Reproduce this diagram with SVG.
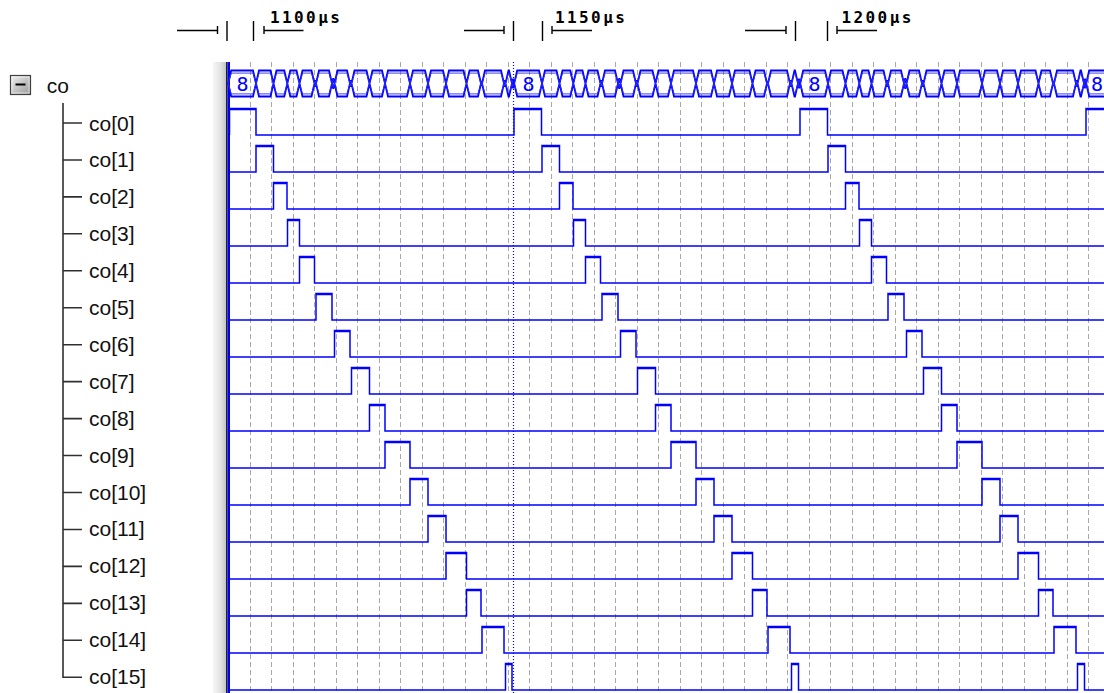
<svg xmlns="http://www.w3.org/2000/svg" xmlns:xlink="http://www.w3.org/1999/xlink" width="1104" height="693" viewBox="0 0 1104 693">
<style>
.lbl{font-family:"Liberation Sans",Arial,sans-serif;font-size:21px;fill:#111}
.rt{font-family:"DejaVu Sans Mono","Liberation Mono",monospace;font-size:16px;font-weight:bold;letter-spacing:2.4px;fill:#000}
.bt{font-family:"DejaVu Sans Mono","Liberation Mono",monospace;font-size:20px;fill:#0000ff;text-anchor:middle}
.rl{stroke:#000;stroke-width:1.4;fill:none}
.grid{stroke:#a8a8a8;stroke-width:1;stroke-dasharray:5 3;fill:none}
.wave{stroke:#0000ff;stroke-width:1.5;fill:none}
.hi{stroke:#0000ff;stroke-width:2.2;fill:none}
.bus{stroke:#0000ff;stroke-width:1.8;fill:none;stroke-linejoin:miter}
.busin{stroke:#2a2aff;stroke-width:1;fill:none}
.tree{stroke:#303030;stroke-width:1.6;fill:none}
</style>
<defs>
<linearGradient id="sep" x1="0" y1="0" x2="1" y2="0">
<stop offset="0" stop-color="#f6f6f6"/><stop offset="0.6" stop-color="#e2e2e2"/><stop offset="1" stop-color="#c4c4c4"/>
</linearGradient>
<linearGradient id="box" x1="0" y1="0" x2="1" y2="1">
<stop offset="0" stop-color="#f0f0f0"/><stop offset="1" stop-color="#9a9a9a"/>
</linearGradient>
<path id="busP" d="M228.2,83.5 L231.2,70.5 H253 L256,83.5 L253,96.5 H231.2 Z M256,83.5 L259,70.5 H270.5 L273.5,83.5 L270.5,96.5 H259 Z M273.5,83.5 L276.5,70.5 H284.3 L287.3,83.5 L284.3,96.5 H276.5 Z M287.3,83.5 L290.3,70.5 H296.5 L299.5,83.5 L296.5,96.5 H290.3 Z M299.5,83.5 L302.5,70.5 H311.5 L314.5,83.5 L311.5,96.5 H302.5 Z M314.5,83.5 L315.25,80.25 L316,83.5 L315.25,86.75 Z M316,83.5 L319,70.5 H329 L332,83.5 L329,96.5 H319 Z M332,83.5 L333.25,78.1 L334.5,83.5 L333.25,88.9 Z M334.5,83.5 L337.5,70.5 H347 L350,83.5 L347,96.5 H337.5 Z M350,83.5 L350.75,80.25 L351.5,83.5 L350.75,86.75 Z M351.5,83.5 L354.5,70.5 H366.5 L369.5,83.5 L366.5,96.5 H354.5 Z M369.5,83.5 L372.5,70.5 H382 L385,83.5 L382,96.5 H372.5 Z M385,83.5 L388,70.5 H407 L410,83.5 L407,96.5 H388 Z M410,83.5 L413,70.5 H425 L428,83.5 L425,96.5 H413 Z M428,83.5 L431,70.5 H443 L446,83.5 L443,96.5 H431 Z M446,83.5 L449,70.5 H463.5 L466.5,83.5 L463.5,96.5 H449 Z M466.5,83.5 L469.5,70.5 H478 L481,83.5 L478,96.5 H469.5 Z M481,83.5 L481.5,81.3 L482,83.5 L481.5,85.7 Z M482,83.5 L485,70.5 H501 L504,83.5 L501,96.5 H485 Z M504,83.5 L504.75,80.25 L505.5,83.5 L504.75,86.75 Z M505.5,83.5 L508.5,70.5 H509 L512,83.5 L509,96.5 H508.5 Z M512,83.5 L513.1,78.7 L514.2,83.5 L513.1,88.3 Z"/>
<g id="busPer">
<use xlink:href="#busP" class="bus"/>
<use xlink:href="#busP" class="busin" transform="translate(0,83.5) scale(1,0.8) translate(0,-83.5)"/>
</g>
</defs>
<rect x="0" y="0" width="1104" height="693" fill="#ffffff"/>

<g id="ruler">
<path class="rl" d="M177,30.5H217.5 M217.5,26V34 M227,21V41 M253.5,21V41 M264,26V34 M264,30.5H303.5 M464,30.5H504 M504,26V34 M513.5,21V41 M542.5,21V41 M552,26V34 M552,30.5H592 M745,30.5H786 M786,26V34 M795.5,21V41 M827.5,21V41 M837,26V34 M837,30.5H877"/>
<text class="rt" x="270" y="23.3">1100µs</text>
<text class="rt" x="555" y="23.3">1150µs</text>
<text class="rt" x="841.5" y="23.3">1200µs</text>
</g>

<g id="grid">
<path class="grid" d="M250.5,62V693 M271.5,62V693 M293.5,62V693 M314.5,62V693 M336.5,62V693 M357.5,62V693 M379.5,62V693 M400.5,62V693 M422.5,62V693 M443.5,62V693 M465.5,62V693 M486.5,62V693 M508.5,62V693 M529.5,62V693 M551.5,62V693 M572.5,62V693 M594.5,62V693 M615.5,62V693 M637.5,62V693 M658.5,62V693 M680.5,62V693 M701.5,62V693 M723.5,62V693 M744.5,62V693 M766.5,62V693 M787.5,62V693 M809.5,62V693 M830.5,62V693 M852.5,62V693 M873.5,62V693 M895.5,62V693 M916.5,62V693 M938.5,62V693 M959.5,62V693 M981.5,62V693 M1002.5,62V693 M1024.5,62V693 M1045.5,62V693 M1067.5,62V693 M1088.5,62V693"/>
</g>

<g id="separator">
<rect x="213" y="62" width="13" height="631" fill="url(#sep)"/>
<rect x="226" y="62" width="1.6" height="631" fill="#202030"/>
<rect x="227.6" y="62" width="2.4" height="631" fill="#0000ff"/>
</g>

<g id="co">
<rect x="10.5" y="75.5" width="20" height="19" fill="url(#box)" stroke="#404040" stroke-width="1.2"/>
<rect x="12" y="77" width="17" height="16" fill="none" stroke="#ffffff" stroke-opacity="0.6" stroke-width="1"/>
<path d="M15.5,84.5H25.5" stroke="#000" stroke-width="2"/>
<text class="lbl" x="46.7" y="93.3">co</text>
<use xlink:href="#busPer"/>
<use xlink:href="#busPer" x="286"/>
<use xlink:href="#busPer" x="572"/>
<use xlink:href="#busPer" x="858"/>
<text class="bt" x="242.5" y="90.5">8</text>
<text class="bt" x="528.5" y="90.5">8</text>
<text class="bt" x="814.5" y="90.5">8</text>
<text class="bt" x="1097" y="90.5">8</text>
</g>

<g id="connectors">
<path class="tree" d="M63,103V677.3H82 M63,123H82 M63,160H82 M63,196.9H82 M63,233.8H82 M63,270.8H82 M63,307.8H82 M63,344.7H82 M63,381.6H82 M63,418.6H82 M63,455.5H82 M63,492.5H82 M63,529.5H82 M63,566.4H82 M63,603.4H82 M63,640.3H82"/>
</g>

<g id="cursor">
<path d="M513.5,62V693" stroke="#0000ff" stroke-width="1.2" stroke-dasharray="1 2" fill="none"/>
</g>

<g id="row-co0"><text class="lbl" x="89" y="130.5">co[0]</text>
<path class="wave" d="M229.5,135V108.5H256V135H514V108.5H541.5V135H800V108.5H827.5V135H1086V108.5H1104"/>
<path class="hi" d="M229.5,109.2H256M514,109.2H541.5M800,109.2H827.5M1086,109.2H1104"/></g>
<g id="row-co1"><text class="lbl" x="89" y="167.4">co[1]</text>
<path class="wave" d="M228,172H256V145.5H273.5V172H542V145.5H559.5V172H828V145.5H845.5V172H1104"/>
<path class="hi" d="M256,146.2H273.5M542,146.2H559.5M828,146.2H845.5"/></g>
<g id="row-co2"><text class="lbl" x="89" y="204.3">co[2]</text>
<path class="wave" d="M228,209H273.5V182.5H287V209H559.5V182.5H573V209H845.5V182.5H859V209H1104"/>
<path class="hi" d="M273.5,183.2H287M559.5,183.2H573M845.5,183.2H859"/></g>
<g id="row-co3"><text class="lbl" x="89" y="241.2">co[3]</text>
<path class="wave" d="M228,246H287.5V219.5H299.5V246H573.5V219.5H585.5V246H859.5V219.5H871.5V246H1104"/>
<path class="hi" d="M287.5,220.2H299.5M573.5,220.2H585.5M859.5,220.2H871.5"/></g>
<g id="row-co4"><text class="lbl" x="89" y="278.1">co[4]</text>
<path class="wave" d="M228,283H299.5V256.5H314.5V283H585.5V256.5H600.5V283H871.5V256.5H886.5V283H1104"/>
<path class="hi" d="M299.5,257.2H314.5M585.5,257.2H600.5M871.5,257.2H886.5"/></g>
<g id="row-co5"><text class="lbl" x="89" y="315">co[5]</text>
<path class="wave" d="M228,320H316V293.5H332V320H602V293.5H618V320H888V293.5H904V320H1104"/>
<path class="hi" d="M316,294.2H332M602,294.2H618M888,294.2H904"/></g>
<g id="row-co6"><text class="lbl" x="89" y="351.9">co[6]</text>
<path class="wave" d="M228,357H334.5V330.5H350V357H620.5V330.5H636V357H906.5V330.5H922V357H1104"/>
<path class="hi" d="M334.5,331.2H350M620.5,331.2H636M906.5,331.2H922"/></g>
<g id="row-co7"><text class="lbl" x="89" y="388.8">co[7]</text>
<path class="wave" d="M228,394H351.5V367.5H369.5V394H637.5V367.5H655.5V394H923.5V367.5H941.5V394H1104"/>
<path class="hi" d="M351.5,368.2H369.5M637.5,368.2H655.5M923.5,368.2H941.5"/></g>
<g id="row-co8"><text class="lbl" x="89" y="425.7">co[8]</text>
<path class="wave" d="M228,431H369.5V404.5H385V431H655.5V404.5H671V431H941.5V404.5H957V431H1104"/>
<path class="hi" d="M369.5,405.2H385M655.5,405.2H671M941.5,405.2H957"/></g>
<g id="row-co9"><text class="lbl" x="89" y="462.6">co[9]</text>
<path class="wave" d="M228,468H385V441.5H410V468H671V441.5H696V468H957V441.5H982V468H1104"/>
<path class="hi" d="M385,442.2H410M671,442.2H696M957,442.2H982"/></g>
<g id="row-co10"><text class="lbl" x="89" y="499.5">co[10]</text>
<path class="wave" d="M228,505H410V478.5H428V505H696V478.5H714V505H982V478.5H1000V505H1104"/>
<path class="hi" d="M410,479.2H428M696,479.2H714M982,479.2H1000"/></g>
<g id="row-co11"><text class="lbl" x="89" y="536.4">co[11]</text>
<path class="wave" d="M228,542H428V515.5H446V542H714V515.5H732V542H1000V515.5H1018V542H1104"/>
<path class="hi" d="M428,516.2H446M714,516.2H732M1000,516.2H1018"/></g>
<g id="row-co12"><text class="lbl" x="89" y="573.3">co[12]</text>
<path class="wave" d="M228,579H446V552.5H466.5V579H732V552.5H752.5V579H1018V552.5H1038.5V579H1104"/>
<path class="hi" d="M446,553.2H466.5M732,553.2H752.5M1018,553.2H1038.5"/></g>
<g id="row-co13"><text class="lbl" x="89" y="610.2">co[13]</text>
<path class="wave" d="M228,616H466.5V589.5H481V616H752.5V589.5H767V616H1038.5V589.5H1053V616H1104"/>
<path class="hi" d="M466.5,590.2H481M752.5,590.2H767M1038.5,590.2H1053"/></g>
<g id="row-co14"><text class="lbl" x="89" y="647.1">co[14]</text>
<path class="wave" d="M228,653H482V626.5H504V653H768V626.5H790V653H1054V626.5H1076V653H1104"/>
<path class="hi" d="M482,627.2H504M768,627.2H790M1054,627.2H1076"/></g>
<g id="row-co15"><text class="lbl" x="89" y="684">co[15]</text>
<path class="wave" d="M228,690H505.5V663.5H512V690H791.5V663.5H798.5V690H1077.5V663.5H1084.5V690H1104"/>
<path class="hi" d="M505.5,664.2H512M791.5,664.2H798.5M1077.5,664.2H1084.5"/></g>
</svg>
